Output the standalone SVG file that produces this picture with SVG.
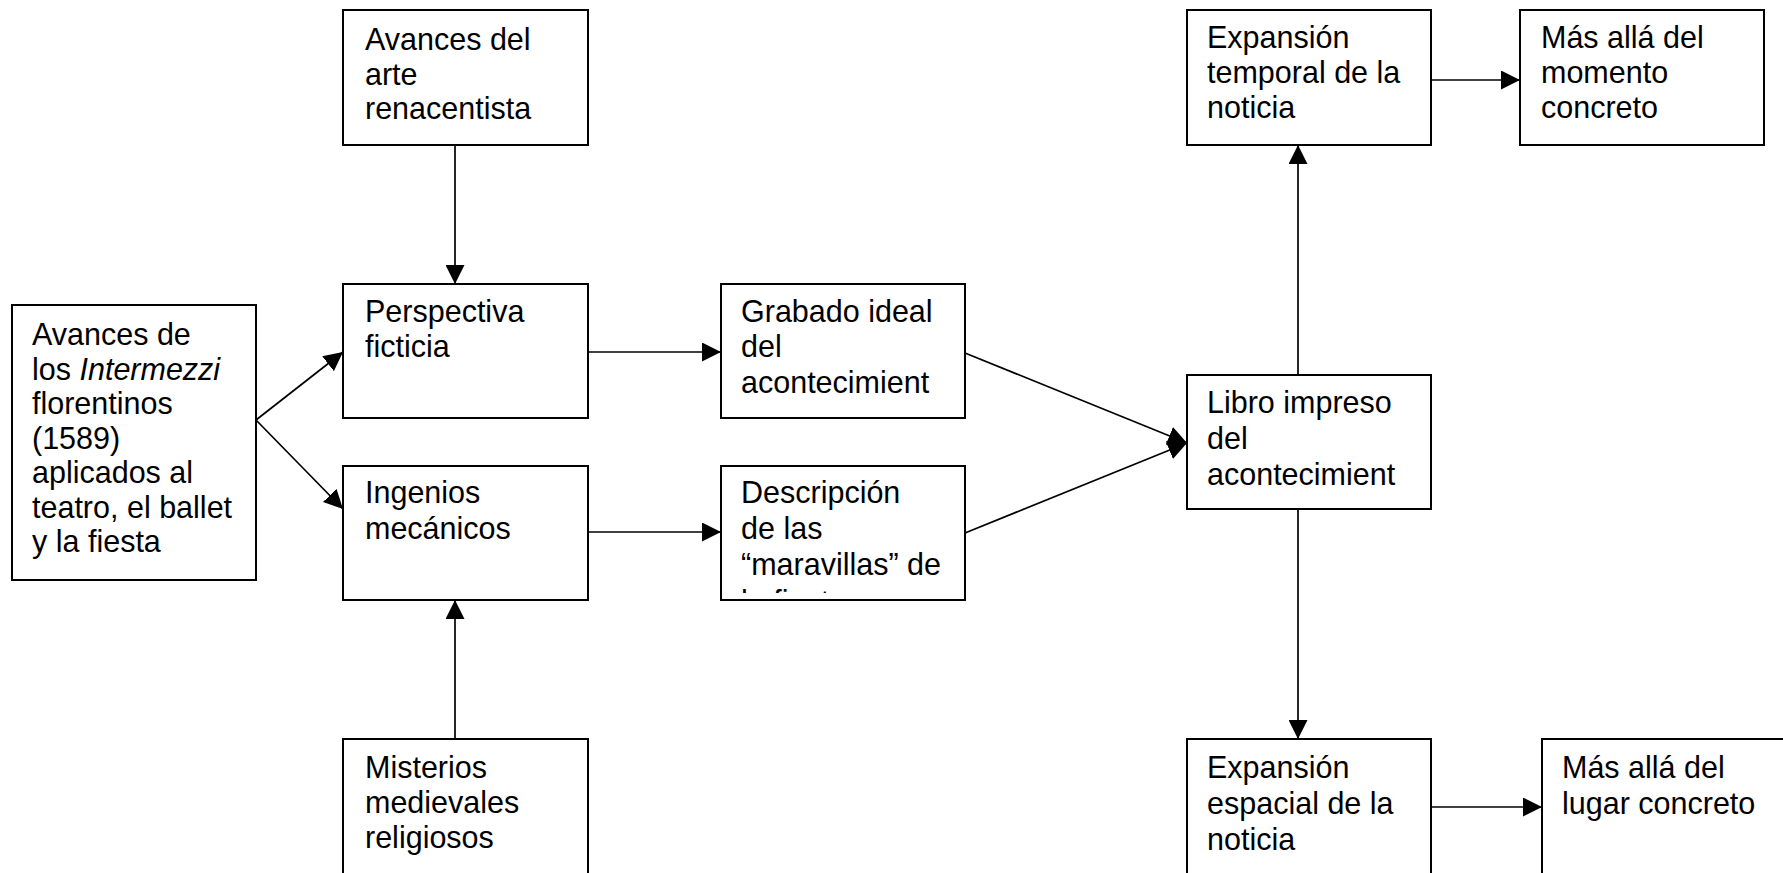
<svg xmlns="http://www.w3.org/2000/svg" width="1783" height="873" viewBox="0 0 1783 873">
<style>
.box{fill:#fff;stroke:#000;stroke-width:2}
.t{font-family:"Liberation Sans",Arial,sans-serif;font-size:30.5px;fill:#000}
.c{fill:none;stroke:#000;stroke-width:1.7}
</style>
<defs>
<marker id="ah" markerUnits="userSpaceOnUse" markerWidth="19" markerHeight="19" refX="19" refY="9.5" orient="auto">
<path d="M0,0 L19,9.5 L0,19 z" fill="#000"/>
</marker>
<clipPath id="clipDesc"><rect x="721" y="466" width="244" height="127"/></clipPath>
</defs>
<rect width="1783" height="873" fill="#fff"/>
<g id="connectors">
<line class="c" x1="455" y1="145" x2="455" y2="284" marker-end="url(#ah)"/>
<line class="c" x1="455" y1="739" x2="455" y2="600" marker-end="url(#ah)"/>
<line class="c" x1="256" y1="420" x2="343" y2="352" marker-end="url(#ah)"/>
<line class="c" x1="256" y1="420" x2="343" y2="509" marker-end="url(#ah)"/>
<line class="c" x1="588" y1="352" x2="721" y2="352" marker-end="url(#ah)"/>
<line class="c" x1="588" y1="532" x2="721" y2="532" marker-end="url(#ah)"/>
<line class="c" x1="965" y1="353" x2="1187" y2="443" marker-end="url(#ah)"/>
<line class="c" x1="965" y1="533" x2="1187" y2="443" marker-end="url(#ah)"/>
<line class="c" x1="1298" y1="375" x2="1298" y2="145" marker-end="url(#ah)"/>
<line class="c" x1="1298" y1="509" x2="1298" y2="739" marker-end="url(#ah)"/>
<line class="c" x1="1431" y1="80" x2="1520" y2="80" marker-end="url(#ah)"/>
<line class="c" x1="1431" y1="807" x2="1542" y2="807" marker-end="url(#ah)"/>
</g>
<g id="n1">
<rect class="box" x="12" y="305" width="244" height="275"/>
<text class="t" x="32" y="345">Avances de</text>
<text class="t" x="32" y="379.5">los <tspan font-style="italic">Intermezzi</tspan></text>
<text class="t" x="32" y="414">florentinos</text>
<text class="t" x="32" y="448.5">(1589)</text>
<text class="t" x="32" y="483">aplicados al</text>
<text class="t" x="32" y="517.5">teatro, el ballet</text>
<text class="t" x="32" y="552">y la fiesta</text>
</g>
<g id="n2">
<rect class="box" x="343" y="10" width="245" height="135"/>
<text class="t" x="365" y="50">Avances del</text>
<text class="t" x="365" y="84.5">arte</text>
<text class="t" x="365" y="119">renacentista</text>
</g>
<g id="n3">
<rect class="box" x="343" y="284" width="245" height="134"/>
<text class="t" x="365" y="322">Perspectiva</text>
<text class="t" x="365" y="357">ficticia</text>
</g>
<g id="n4">
<rect class="box" x="343" y="466" width="245" height="134"/>
<text class="t" x="365" y="503">Ingenios</text>
<text class="t" x="365" y="539">mecánicos</text>
</g>
<g id="n5">
<rect class="box" x="343" y="739" width="245" height="140"/>
<text class="t" x="365" y="778">Misterios</text>
<text class="t" x="365" y="813">medievales</text>
<text class="t" x="365" y="848">religiosos</text>
</g>
<g id="n6">
<rect class="box" x="721" y="284" width="244" height="134"/>
<text class="t" x="741" y="322">Grabado ideal</text>
<text class="t" x="741" y="357">del</text>
<text class="t" x="741" y="393">acontecimient</text>
</g>
<g id="n7">
<rect class="box" x="721" y="466" width="244" height="134"/>
<g clip-path="url(#clipDesc)">
<text class="t" x="741" y="503">Descripción</text>
<text class="t" x="741" y="539">de las</text>
<text class="t" x="741" y="575">“maravillas” de</text>
<text class="t" x="741" y="612">la fiesta</text>
</g>
</g>
<g id="n8">
<rect class="box" x="1187" y="375" width="244" height="134"/>
<text class="t" x="1207" y="413">Libro impreso</text>
<text class="t" x="1207" y="449">del</text>
<text class="t" x="1207" y="485">acontecimient</text>
</g>
<g id="n9">
<rect class="box" x="1187" y="10" width="244" height="135"/>
<text class="t" x="1207" y="48">Expansión</text>
<text class="t" x="1207" y="83">temporal de la</text>
<text class="t" x="1207" y="118">noticia</text>
</g>
<g id="n10">
<rect class="box" x="1520" y="10" width="244" height="135"/>
<text class="t" x="1541" y="48">Más allá del</text>
<text class="t" x="1541" y="83">momento</text>
<text class="t" x="1541" y="118">concreto</text>
</g>
<g id="n11">
<rect class="box" x="1187" y="739" width="244" height="140"/>
<text class="t" x="1207" y="778">Expansión</text>
<text class="t" x="1207" y="814">espacial de la</text>
<text class="t" x="1207" y="850">noticia</text>
</g>
<g id="n12">
<rect class="box" x="1542" y="739" width="245" height="140"/>
<text class="t" x="1562" y="778">Más allá del</text>
<text class="t" x="1562" y="814">lugar concreto</text>
</g>
</svg>
